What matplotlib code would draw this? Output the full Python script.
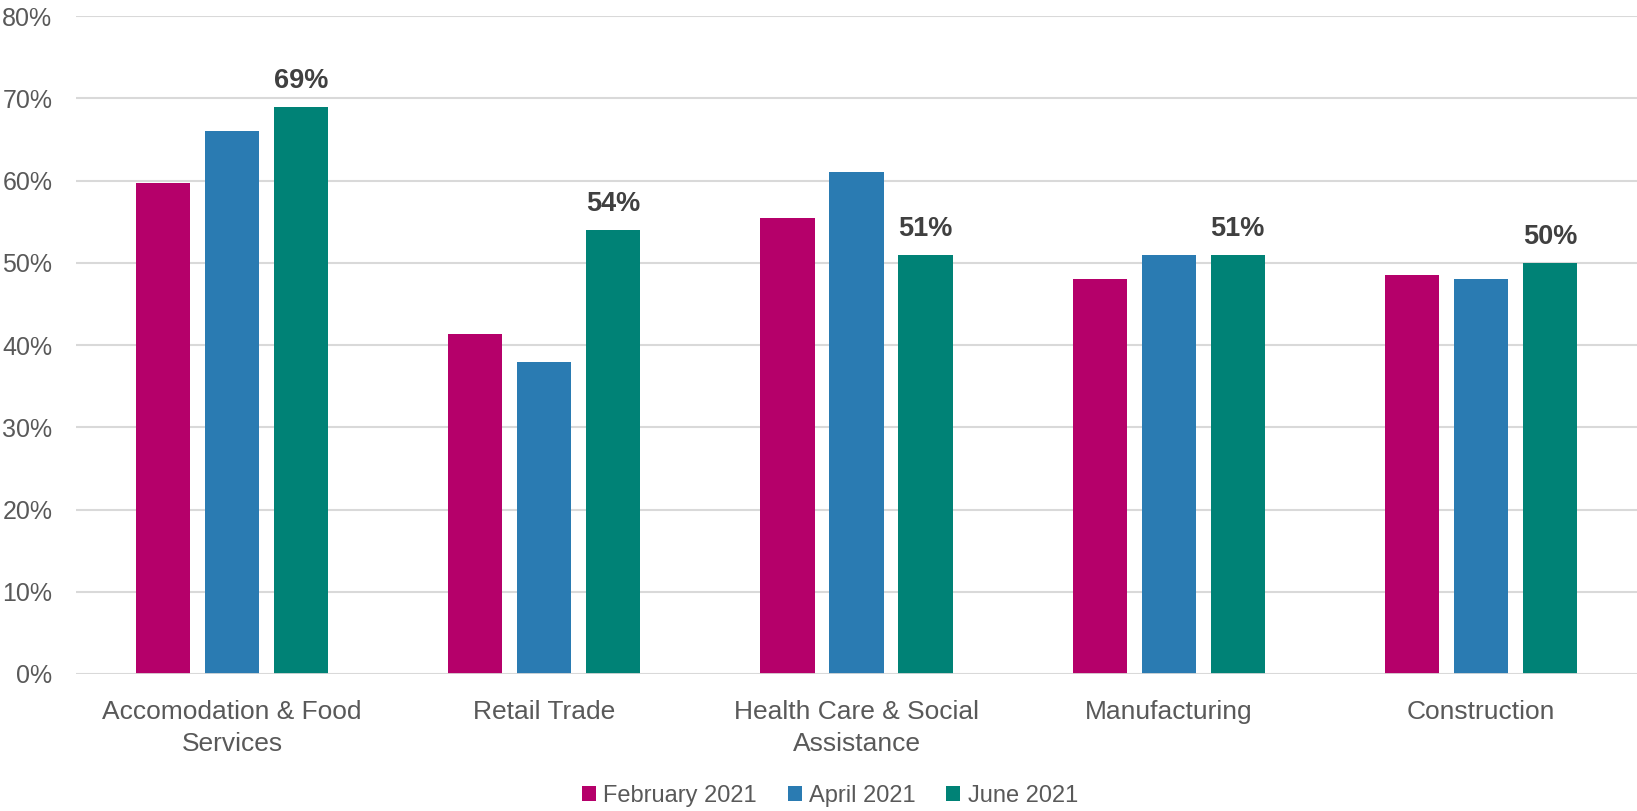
import numpy as np
import matplotlib
matplotlib.use('Agg')
import matplotlib.pyplot as plt

plt.rcParams['font.family'] = ['Liberation Sans', 'DejaVu Sans']

categories = ['Accomodation & Food\nServices', 'Retail Trade',
              'Health Care & Social\nAssistance', 'Manufacturing', 'Construction']
series_names = ['February 2021', 'April 2021', 'June 2021']
feb_2021 = [0.597, 0.414, 0.554, 0.480, 0.485]
apr_2021 = [0.660, 0.380, 0.610, 0.510, 0.480]
jun_2021 = [0.690, 0.540, 0.510, 0.510, 0.500]
colors = ['#B5006A', '#2A7BB2', '#008276']

fig = plt.figure(figsize=(16.37, 8.11), dpi=100)
ax = fig.add_axes([0.0464, 0.169, 0.9536, 0.811])

x = np.arange(len(categories))
width = 0.174
step = 0.221
for i, (vals, name, c) in enumerate(zip([feb_2021, apr_2021, jun_2021], series_names, colors)):
    bars = ax.bar(x + (i - 1) * step, vals, width, color=c, label=name, zorder=3)
    if i == 2:
        # only the June bars get labels
        for b, v in zip(bars, vals):
            ax.annotate(f'{v*100:.0f}%', (b.get_x() + b.get_width() / 2, v),
                        xytext=(0, 9), textcoords='offset points',
                        ha='center', va='bottom', fontsize=19.5, fontweight='bold',
                        color='#404040')

ax.set_xlim(-0.5, len(categories) - 0.5)
ax.set_ylim(0, 0.8)
ax.set_yticks(np.arange(0, 0.81, 0.1))
ax.set_yticklabels([f'{t*100:.0f}%' for t in np.arange(0, 0.81, 0.1)])
ax.set_xticks(x)
ax.set_xticklabels(categories, fontsize=19, color='#595959', linespacing=1.42)
ax.tick_params(axis='y', labelsize=18, labelcolor='#595959', length=0, pad=17)
ax.tick_params(axis='x', length=0, pad=19)

ax.grid(axis='y', color='#d9d9d9', linewidth=1.5, zorder=0)
for s in ax.spines.values():
    s.set_visible(False)
ax.axhline(0, color='#d9d9d9', linewidth=2, zorder=4)

leg = fig.legend(loc='center', bbox_to_anchor=(0.507, 0.019), ncol=3, frameon=False,
                 fontsize=17, handlelength=0.6, handleheight=0.6, handletextpad=0.3,
                 columnspacing=1.3)
for t in leg.get_texts():
    t.set_color('#595959')

fig.savefig('out.png', dpi=100)
